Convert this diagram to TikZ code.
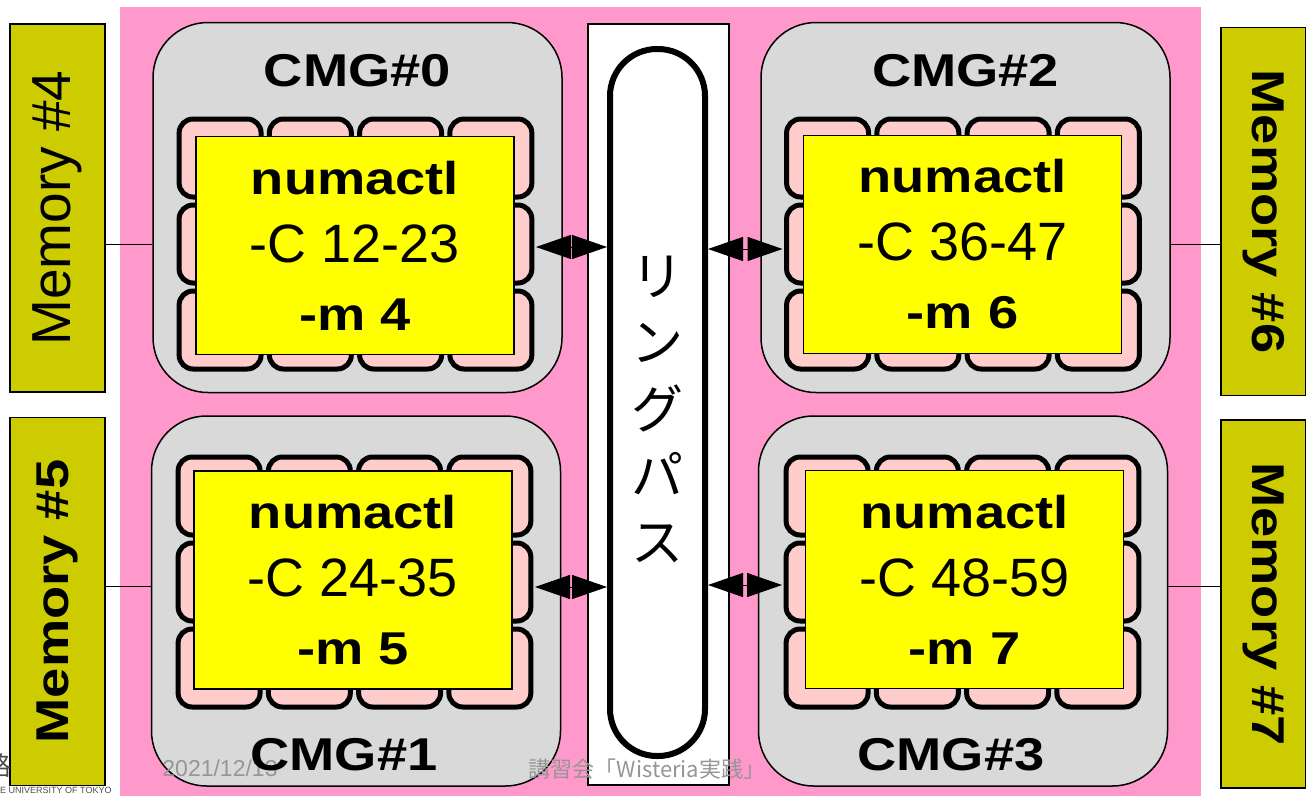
\documentclass[tikz,border=0pt]{standalone}
\usepackage{fontspec}
\setmainfont{Liberation Sans}
\newfontfamily\jpfont{Noto Sans CJK JP}
\usepackage{graphicx}
\usepackage{tikz}
\usetikzlibrary{arrows.meta, positioning, calc}
\definecolor{bgpink}{RGB}{255, 153, 204}
\definecolor{cmggray}{RGB}{217, 217, 217}
\definecolor{corepink}{RGB}{255, 204, 204}
\definecolor{numayellow}{RGB}{255, 255, 0}
\definecolor{memolive}{RGB}{204, 204, 0}
\definecolor{footgray}{RGB}{150, 150, 150}
\newcommand{\boldwide}[1]{\scalebox{1.18}[1]{\fontsize{46}{56}\selectfont\bfseries #1}}

\begin{document}
\begin{tikzpicture}[
    x=1pt, y=1pt,
    memory/.style={draw, line width=1.5pt, fill=memolive, minimum width=368pt, minimum height=95pt, inner sep=0pt},
    cmg/.style={draw, line width=1.5pt, fill=cmggray, minimum width=409pt, minimum height=370pt, rounded corners=55pt},
    core/.style={inner sep=0pt, outer sep=0pt, minimum width=361pt, minimum height=258pt},
    tile/.style={draw, line width=5pt, fill=corepink, minimum width=82pt, minimum height=78pt, rounded corners=14pt},
    numa/.style={draw, line width=1.5pt, fill=numayellow, minimum width=318pt, minimum height=218pt, align=center, font=\fontsize{54}{68}\selectfont},
    lane/.style={draw, line width=1.5pt, fill=white, minimum width=141pt, minimum height=761pt},
    ring/.style={draw, line width=6pt, fill=white, minimum width=95pt, minimum height=707pt, rounded corners=47pt},
    cmglabel/.style={inner sep=0pt},
    link/.style={{Triangle[length=35pt,width=24pt]}-{Triangle[length=35pt,width=24pt]}, line width=1pt},
    wire/.style={line width=1pt},
    footer/.style={text=footgray, inner sep=0pt}
]
\clip[use as bounding box] (0,0) rectangle (1306,-795);

% Background
\fill[bgpink] (120,-7) rectangle (1201,-800);
\node[lane] (lane) at (658.5,-404.5) {};

% Memories
\node[memory, rotate=90, font=\fontsize{55}{60}\selectfont] (mem4) at (57.5,-208) {Memory \#4};
\node[memory, rotate=90] (mem5) at (57.5,-601.5) {\boldwide{Memory \#5}};
\node[memory, rotate=-90, minimum height=85pt] (mem6) at (1263.5,-211.5) {\boldwide{Memory \#6}};
\node[memory, rotate=-90, minimum height=85pt] (mem7) at (1263.5,-604) {\boldwide{Memory \#7}};

% CMGs
\node[cmg] (cmg0) at (357.5,-207.5) {};
\node[cmg] (cmg2) at (965.5,-207.5) {};
\node[cmg] (cmg1) at (356,-601) {};
\node[cmg] (cmg3) at (963,-601) {};

% Cores
\node[core] (core0) at (355.5,-244) {};
\node[core] (core2) at (963,-244) {};
\node[core] (core1) at (354.5,-582) {};
\node[core] (core3) at (962.5,-582) {};
\foreach \k in {0,1,2,3}
  \foreach \c in {0,...,3}
    \foreach \r in {0,1,2}
      \node[tile] (tile\k\c\r) at ($(core\k.north west)+(45.1+90.25*\c,-43-86*\r)$) {};

% numactl
\node[numa] (numa0) at (355,-245.5) {\boldwide{numactl}\\-C 12-23\\\boldwide{-m 4}};
\node[numa] (numa2) at (962.5,-244.5) {\boldwide{numactl}\\-C 36-47\\\boldwide{-m 6}};
\node[numa] (numa1) at (353,-580) {\boldwide{numactl}\\-C 24-35\\\boldwide{-m 5}};
\node[numa] (numa3) at (964.5,-579.5) {\boldwide{numactl}\\-C 48-59\\\boldwide{-m 7}};

% Ring path
\node[ring] (ring) at (657.5,-402.5) {};
\node[align=center, font=\jpfont\fontsize{52}{66.5}\selectfont] (ringtext) at (657.5,-409) {リ\\ン\\グ\\パ\\ス};

% Links
\draw[wire] (core0.west -| mem4.south) -- (core0.west -| cmg0.west);
\draw[wire] (core2.east -| cmg2.east) -- (core2.east -| mem6.south);
\coordinate (w1) at ([yshift=-4pt]core1.west);
\coordinate (w3) at ([yshift=-4pt]core3.east);
\draw[wire] (w1 -| mem5.south) -- (w1 -| cmg1.west);
\draw[wire] (w3 -| cmg3.east) -- (w3 -| mem7.south);
\coordinate (l0) at ([yshift=-3pt]core0.east);
\coordinate (l2) at ([yshift=-5pt]core2.west);
\coordinate (l1) at ([yshift=-5pt]core1.east);
\coordinate (l3) at ([yshift=-3pt]core3.west);
\draw[link] (l0) -- (l0 -| ring.west);
\draw[link] (l2 -| ring.east) -- (l2);
\draw[link] (l1) -- (l1 -| ring.west);
\draw[link] (l3 -| ring.east) -- (l3);

% Footer
\node[footer, font=\fontsize{23}{26}\selectfont] (date) at (220,-768) {2021/12/13};
\node[footer, font=\jpfont\fontsize{22}{26}\selectfont] (title) at (647,-769) {講習会「Wisteria実践」};
\node[footer, text=black!70, anchor=west, font=\fontsize{9}{10}\selectfont] (univ) at (0,-790) {E UNIVERSITY OF TOKYO};
\node[footer, text=black!70, anchor=east, font=\jpfont\fontsize{26}{28}\selectfont] (logo) at (12,-766) {路};

% CMG labels
\node[cmglabel, below=32pt of cmg0.north] (cmg0text) {\boldwide{CMG\#0}};
\node[cmglabel, below=32pt of cmg2.north] (cmg2text) {\boldwide{CMG\#2}};
\node[cmglabel, above=16pt of cmg1.south, xshift=-12pt] (cmg1text) {\boldwide{CMG\#1}};
\node[cmglabel, above=16pt of cmg3.south, xshift=-12pt] (cmg3text) {\boldwide{CMG\#3}};

\end{tikzpicture}
\end{document}
